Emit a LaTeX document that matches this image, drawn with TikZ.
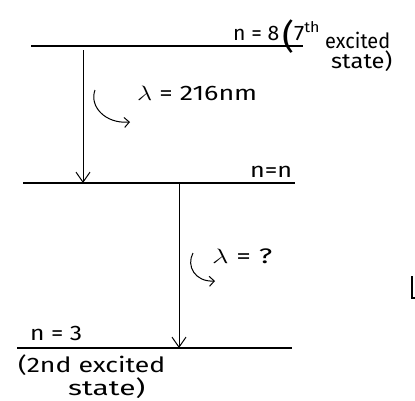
\documentclass[tikz,border=0pt]{standalone}
\usepackage{fontspec}
\usepackage{graphicx}
\setmainfont{Fira Sans}
\usetikzlibrary{arrows.meta}
\newcommand{\hwtext}[2]{\resizebox{#1pt}{\height}{#2}}
\begin{document}
\begin{tikzpicture}[x=1pt,y=-1pt,
  level/.style={line width=1.2pt},
  trans/.style={line width=1pt,-{Straight Barb[length=10pt,width=14pt]}},
  curl/.style={line width=1pt,-{Straight Barb[length=5pt,width=10pt]}},
  lbl/.style={inner sep=0pt,anchor=base west,font=\fontsize{21}{23}\selectfont}]
\useasboundingbox (0,0) rectangle (415,400);
% levels
\coordinate (l8a) at (31,46); \coordinate (l8b) at (303,46);
\coordinate (lna) at (23,183); \coordinate (lnb) at (295,183);
\coordinate (l3a) at (17,348); \coordinate (l3b) at (292,348);
\draw[level] (l8a) -- (l8b);
\draw[level] (lna) -- (lnb);
\draw[level] (l3a) -- (l3b);
% transitions
\coordinate (t1a) at (83,50); \coordinate (t1b) at (83,183);
\coordinate (t2a) at (179,183); \coordinate (t2b) at (179,348);
\draw[trans] (t1a) -- (t1b);
\draw[trans] (t2a) -- (t2b);
% curly arrows
\coordinate (c1a) at (95,90); \coordinate (c1b) at (130,122);
\draw[curl] (c1a) .. controls (89,106) and (105,124) .. (c1b);
\coordinate (c2a) at (193,253); \coordinate (c2b) at (215,281);
\draw[curl] (c2a) .. controls (186,266) and (195,282) .. (c2b);
% labels
\node[lbl] (n8) at (233,40) {\hwtext{46}{n = 8}};
\node[lbl] (sev) at (282,40) {\hwtext{38}{\raisebox{-8pt}{\fontsize{34}{34}\selectfont(}7\textsuperscript{th}}};
\node[lbl] (exc) at (325,48) {\hwtext{65}{excited}};
\node[lbl] (st1) at (331,68) {\hwtext{61}{state)}};
\node[lbl] (lam1) at (137,100) {\hwtext{120}{$\lambda$ = 216nm}};
\node[lbl] (nn) at (250,177) {\hwtext{42}{n=n}};
\node[lbl] (lam2) at (212,263) {\hwtext{60}{$\lambda$ = ?}};
\node[lbl] (n3) at (30,340) {\hwtext{52}{n = 3}};
\node[lbl] (exc2) at (18,372) {\hwtext{147}{(2nd excited}};
\node[lbl] (st2) at (68,395) {\hwtext{77}{state)}};
% stray mark at right edge
\coordinate (m1) at (412,276); \coordinate (m2) at (412,298); \coordinate (m3) at (415,298);
\draw[line width=1.2pt] (m1) -- (m2) -- (m3);
\end{tikzpicture}
\end{document}
